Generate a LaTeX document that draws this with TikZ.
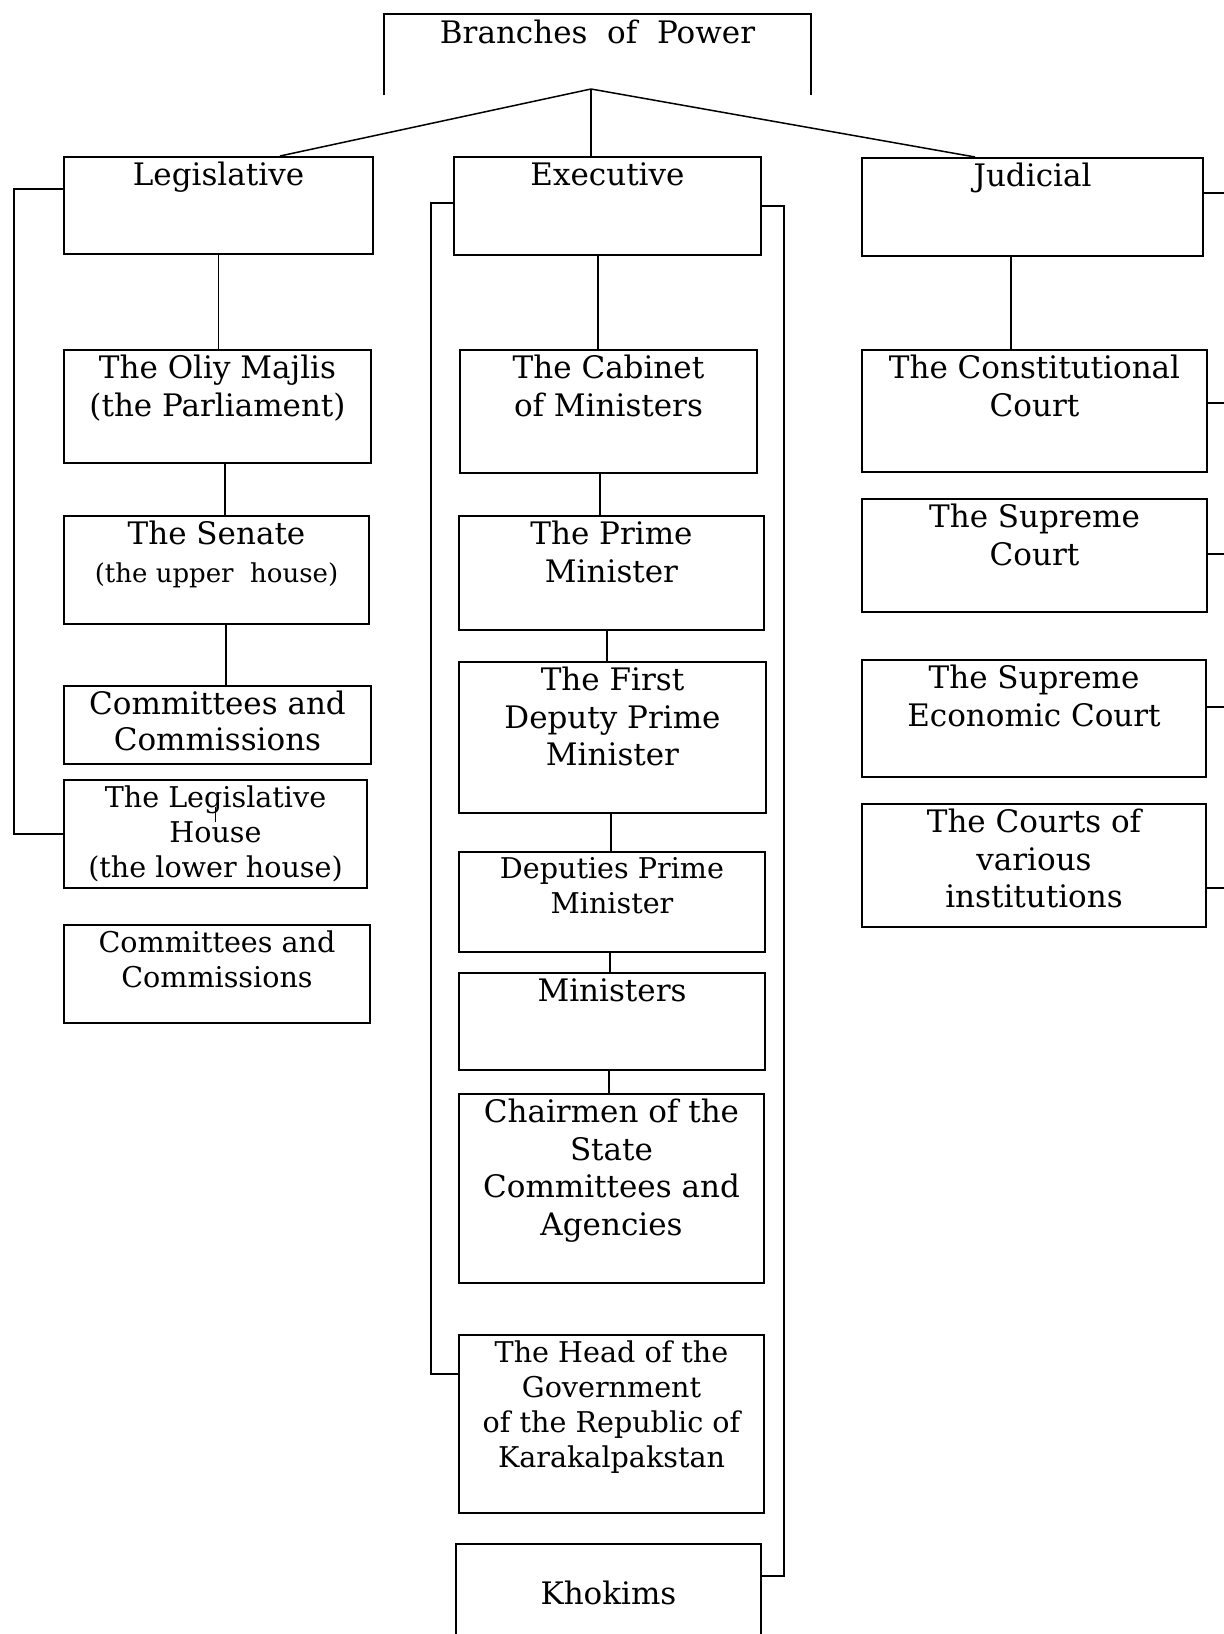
\documentclass[tikz,border=0pt]{standalone}
\usepackage{fontspec}
\setmainfont{DejaVu Serif}
\usetikzlibrary{positioning, calc}

\begin{document}
\begin{tikzpicture}[x=0.5pt,y=-0.5pt,box/.style 2 args={draw,line width=1pt,anchor=north west,inner sep=0pt,minimum width=#1*0.5pt,minimum height=#2*0.5pt},big/.style={anchor=north,align=center,inner sep=3pt,font=\fontsize{15.5}{18.75}\selectfont},mid/.style={anchor=north,align=center,inner sep=3pt,font=\fontsize{14.3}{17.5}\selectfont},link/.style={line width=0.75pt}]
\useasboundingbox (0,0) rectangle (1224,1634);
\node[box={425}{79},draw=none,label={[big]north:{Branches\ \ of\ \ Power}}] (title) at (384,14) {};
\draw[line width=1pt] (title.south west) -- (title.north west) -- (title.north east) -- (title.south east);
\coordinate (hub) at (591,89);
% legislative column
\node[box={309}{97},label={[big]north:Legislative}] (leg) at (63,156) {};
\node[box={307}{113},label={[big]north:{The Oliy Majlis\\(the Parliament)}}] (oliy) at (63,349) {};
\node[box={305}{108},label={[big]north:{The Senate\\{\fontsize{13}{17.5}\selectfont(the upper~ house)}}}] (senate) at (63,515) {};
\node[box={307}{78},label={[big,font=\fontsize{15.5}{18}\selectfont]north:{Committees and\\Commissions}}] (comm1) at (63,685) {};
\node[box={303}{108},label={[mid]north:{The Legislative\\House\\(the lower house)}}] (lhouse) at (63,779) {};
\node[box={306}{98},label={[mid]north:{Committees and\\Commissions}}] (comm2) at (63,924) {};
% executive column
\node[box={307}{98},label={[big]north:Executive}] (exec) at (453,156) {};
\node[box={297}{123},label={[big]north:{The Cabinet\\of Ministers}}] (cab) at (459,349) {};
\node[box={305}{114},label={[big]north:{The Prime\\Minister}}] (prime) at (458,515) {};
\node[box={307}{151},label={[big]north:{The First\\Deputy Prime\\Minister}}] (first) at (458,661) {};
\node[box={306}{100},label={[mid]north:{Deputies Prime\\Minister}}] (dep) at (458,851) {};
\node[box={306}{97},label={[big]north:Ministers}] (mins) at (458,972) {};
\node[box={305}{189},label={[big]north:{Chairmen of the\\State\\Committees and\\Agencies}}] (chair) at (458,1093) {};
\node[box={305}{178},label={[mid]north:{The Head of the\\Government\\of the Republic of\\Karakalpakstan}}] (head) at (458,1334) {};
\node[box={305}{120},label={[big,yshift=-16pt]north:Khokims}] (kho) at (455,1543) {};
% judicial column
\node[box={341}{98},label={[big]north:Judicial}] (jud) at (861,157) {};
\node[box={345}{122},label={[big]north:{The Constitutional\\Court}}] (const) at (861,349) {};
\node[box={345}{113},label={[big]north:{The Supreme\\Court}}] (supreme) at (861,498) {};
\node[box={344}{117},label={[big]north:{The Supreme\\Economic Court}}] (econ) at (861,659) {};
\node[box={344}{123},label={[big]north:{The Courts of\\various\\institutions}}] (various) at (861,803) {};
% links
\draw[link] (hub) -- ([xshift=30.75pt]leg.north);
\draw[link] (hub) -- (hub |- exec.north);
\draw[link] (hub) -- ([xshift=-28.75pt]jud.north);
\draw[link] (leg.south) -- (leg.south |- oliy.north);
\draw[link] ([xshift=3.75pt]oliy.south) -- ([xshift=3.75pt]oliy.south |- senate.north);
\draw[link] ([xshift=4.75pt]senate.south) -- ([xshift=4.75pt]senate.south |- comm1.north);
\draw[link] ([yshift=-14pt]lhouse.north) -- ++(0,15);
\draw[link] ([yshift=8.25pt]leg.west) -| ([xshift=-24.5pt]lhouse.west) -- (lhouse.west);
\draw[link] ([xshift=-4.75pt]exec.south) -- ([xshift=-4.75pt]exec.south |- cab.north);
\draw[link] ([xshift=-4.25pt]cab.south) -- ([xshift=-4.25pt]cab.south |- prime.north);
\draw[link] ([xshift=-2.25pt]prime.south) -- ([xshift=-2.25pt]prime.south |- first.north);
\draw[link] ([xshift=-0.75pt]first.south) -- ([xshift=-0.75pt]first.south |- dep.north);
\draw[link] ([xshift=-1pt]dep.south) -- ([xshift=-1pt]dep.south |- mins.north);
\draw[link] ([xshift=-1.5pt]mins.south) -- ([xshift=-1.5pt]mins.south |- chair.north);
\draw[link] ([yshift=1.5pt]exec.west) -| ([xshift=-13.5pt,yshift=25pt]head.west) -- ([yshift=25pt]head.west);
\draw[link] (exec.east) -| ([xshift=11pt,yshift=14pt]kho.east) -- ([yshift=14pt]kho.east);
\draw[link] ([xshift=-10.75pt]jud.south) -- ([xshift=-10.75pt]jud.south |- const.north);
\draw[link] ([yshift=7pt]jud.east) -- ++(40,0);
\draw[link] ([yshift=4pt]const.east) -- ++(40,0);
\draw[link] ([yshift=0.75pt]supreme.east) -- ++(40,0);
\draw[link] ([yshift=5.75pt]econ.east) -- ++(40,0);
\draw[link] ([yshift=-11.25pt]various.east) -- ++(40,0);
\end{tikzpicture}
\end{document}
